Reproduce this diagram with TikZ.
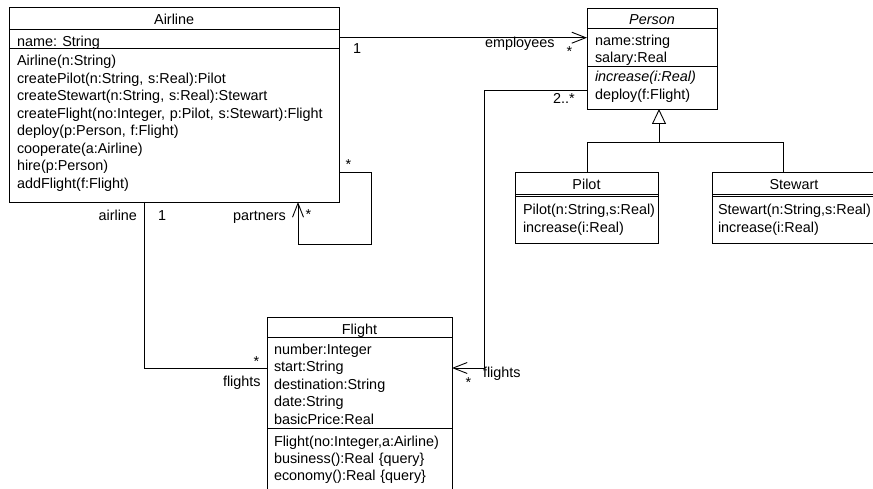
\documentclass[tikz,border=0pt]{standalone}
\usepackage{fontspec}
\setmainfont{Liberation Sans}
\usetikzlibrary{arrows.meta}
\begin{document}
\begin{tikzpicture}[x=1pt,y=-1pt,
  box/.style={draw,line width=0.9pt,inner sep=0pt,outer sep=0pt,anchor=north west},
  sep/.style={line width=0.9pt},
  txt/.style={inner sep=0pt,outer sep=0pt,anchor=base west,font=\fontsize{14.4}{17.5}\selectfont},
  ttl/.style={inner sep=0pt,outer sep=0pt,anchor=base,font=\fontsize{14.4}{17.5}\selectfont},
  lst/.style={txt,text width=340pt,align=left},
  conn/.style={line width=0.9pt},
  assoc/.style={conn,-{Straight Barb[length=14pt,width=11pt]}},
  gen/.style={conn,-{Triangle[open,length=15pt,width=14pt]}}]
\useasboundingbox (0,0) rectangle (873,489);
\clip (0,0) rectangle (873,489);
\fill[white] (0,0) rectangle (873,489);

% ---- class boxes ----
\node[box,minimum width=329.5pt,minimum height=194.5pt] (airline) at (9.5,7.5) {};
\node[box,minimum width=130pt,minimum height=101pt] (person) at (587,8) {};
\node[box,minimum width=143pt,minimum height=71pt] (pilot) at (515,172) {};
\node[box,minimum width=170pt,minimum height=71pt] (stewart) at (712,172) {};
\node[box,minimum width=185pt,minimum height=200pt] (flight) at (267,317) {};

% compartments
\draw[sep] (9.5,29.3) -- (339,29.3);
\draw[sep] (9.5,48.3) -- (339,48.3);
\draw[sep] (587,28.3) -- (717,28.3);
\draw[sep] (587,66.5) -- (717,66.5);
\draw[sep] (515,194) -- (658,194);
\draw[sep] (515,196.8) -- (658,196.8);
\draw[sep] (712,194) -- (882,194);
\draw[sep] (712,196.8) -- (882,196.8);
\draw[sep] (267,337) -- (452,337);
\draw[sep] (267,428) -- (452,428);

% ---- texts ----
\node[ttl] (airlineT) at (174.2,25) {Airline};
\node[txt] (airlineA) at (17,46.5) {name: String};
\node[lst] (airlineM) at (17,66) {Airline(n:String)\\createPilot(n:String, s:Real):Pilot\\createStewart(n:String, s:Real):Stewart\\createFlight(no:Integer, p:Pilot, s:Stewart):Flight\\deploy(p:Person, f:Flight)\\cooperate(a:Airline)\\hire(p:Person)\\addFlight(f:Flight)};

\node[ttl] (personT) at (652,25) {\itshape Person};
\node[lst,font=\fontsize{14.4}{16.5}\selectfont] (personA) at (595,46) {name:string\\salary:Real};
\node[lst] (personM) at (595,82) {\textit{increase(i:Real)}\\deploy(f:Flight)};

\node[ttl] (pilotT) at (586.5,190) {Pilot};
\node[lst] (pilotM) at (523,215) {Pilot(n:String,s:Real)\\increase(i:Real)};

\node[ttl] (stewartT) at (794,190) {Stewart};
\node[lst] (stewartM) at (718,215) {Stewart(n:String,s:Real)\\increase(i:Real)};

\node[ttl] (flightT) at (359.5,334) {Flight};
\node[lst,font=\fontsize{14.4}{17.4}\selectfont] (flightA) at (274,354.5) {number:Integer\\start:String\\destination:String\\date:String\\basicPrice:Real};
\node[lst,font=\fontsize{14.4}{17}\selectfont] (flightM) at (274,446) {Flight(no:Integer,a:Airline)\\business():Real \{query\}\\economy():Real \{query\}};

% ---- connector ports ----
\coordinate (ae) at ([yshift=-30.2pt]airline.north east);
\coordinate (selfout) at ([yshift=-164.5pt]airline.north east);
\coordinate (selfin) at ([xshift=-41pt]airline.south east);
\coordinate (af) at ([xshift=134.5pt]airline.south west);
\coordinate (fa) at ([yshift=-51pt]flight.north west);
\coordinate (pf) at ([yshift=-82pt]person.north west);
\coordinate (fp) at ([yshift=-51pt]flight.north east);
\coordinate (pt) at ([xshift=72pt]pilot.north west);
\coordinate (st) at ([xshift=71pt]stewart.north west);
\coordinate (ps) at ([xshift=72pt]person.south west);
\coordinate (bar) at ([yshift=30pt]pt);

% ---- connectors ----
\draw[assoc] (ae) -- (ae -| person.west);
\draw[assoc] (selfout) -- ++(32,0) |- ([yshift=-42pt]selfin) -- (selfin);
\draw[conn] (af) |- (fa);
\draw[assoc] (pf) -- ++(-103,0) |- (fp);
\draw[conn] (pt) |- (bar -| st) -- (st);
\draw[gen] (bar -| ps) -- (ps);

% ---- labels ----
\node[txt] (m1) at (353,54) {1};
\node[txt] (memp) at (485,48) {employees};
\node[txt] (mstar1) at (566.5,57) {*};
\node[txt] (m2) at (553,104) {2..*};
\node[txt] (mstar2) at (345.5,170) {*};
\node[txt] (mstar3) at (305.5,220) {*};
\node[txt] (mpart) at (233,221) {partners};
\node[txt] (mair) at (98.6,221) {airline};
\node[txt] (m1b) at (158,221) {1};
\node[txt] (mstar4) at (253.5,366) {*};
\node[txt] (mfl1) at (223,386) {flights};
\node[txt] (mstar5) at (465.5,387) {*};
\node[txt] (mfl2) at (483,377) {flights};
\end{tikzpicture}
\end{document}
